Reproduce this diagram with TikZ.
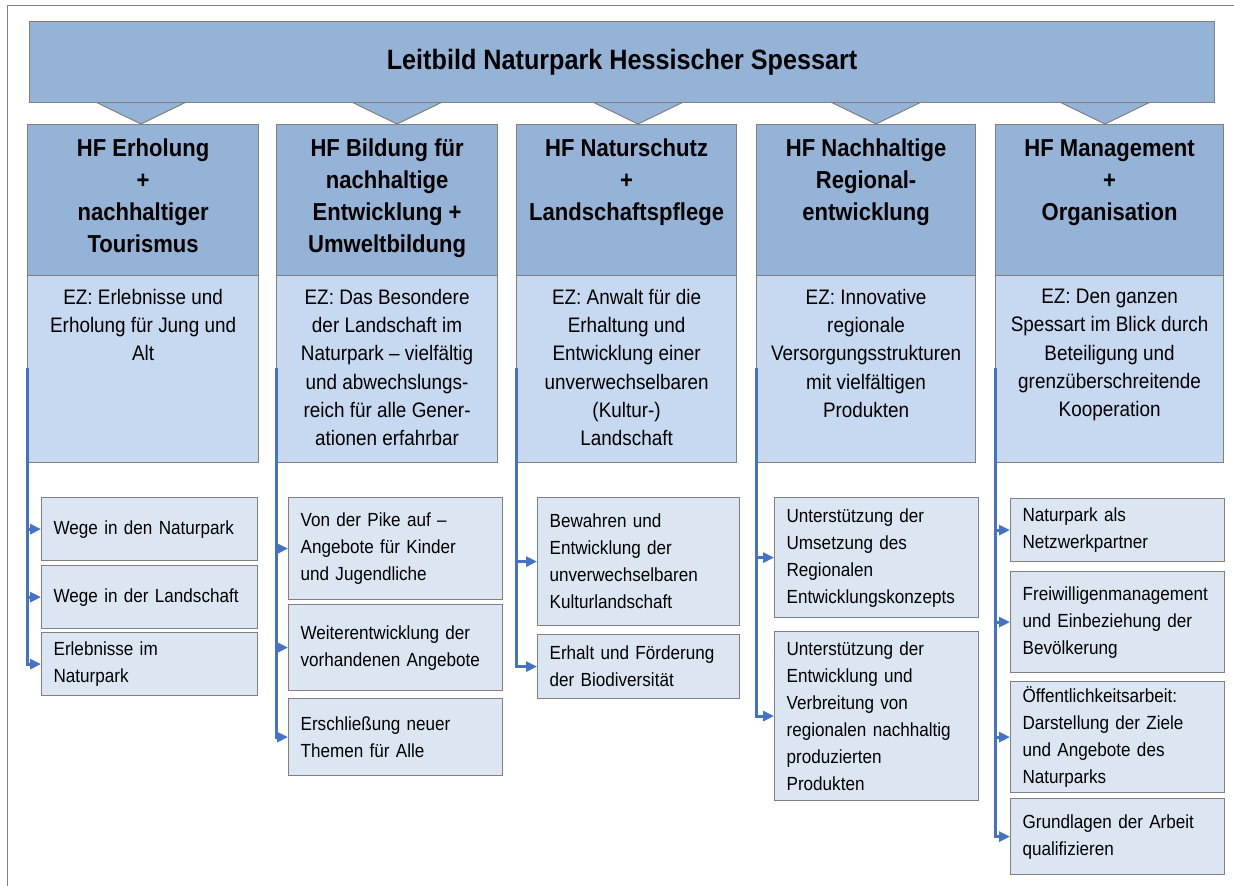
\documentclass[tikz,border=0pt]{standalone}
\usepackage{fontspec}
\setmainfont{Liberation Sans}[FakeStretch=0.9]
\usetikzlibrary{positioning,arrows.meta}
\definecolor{leitblue}{RGB}{149,179,215}
\definecolor{ezblue}{RGB}{198,217,241}
\definecolor{subblue}{RGB}{220,230,242}
\definecolor{boxgray}{RGB}{128,128,128}
\definecolor{connblue}{RGB}{68,114,196}
\hyphenpenalty=10000

\begin{document}
\begin{tikzpicture}[x=1pt,y=-1pt,every path/.style={>={Triangle[length=11pt,width=10pt]}},
		box/.style={draw=boxgray,line width=1.2pt,anchor=north west,inner sep=0pt},
		hfbox/.style={box,fill=leitblue,minimum height=151pt},
		ezbox/.style={box,fill=ezblue,minimum height=187pt},
		hftext/.style={align=center,inner sep=0pt,font=\fontsize{24.5}{32}\selectfont\bfseries},
		eztext/.style={align=center,inner sep=0pt,font=\fontsize{21}{28.2}\selectfont},
		sub/.style={box,fill=subblue,inner xsep=12pt,align=left,font=\fontsize{19}{27}\selectfont},
		conn/.style={->,color=connblue,line width=3pt}]
		\useasboundingbox (0,0) rectangle (1234,886);
		
		% draw outer frame
		\draw[boxgray,line width=1pt] (7,900) -- (7,5) -- (1240,5);
		
		% draw pointers below the banner
		\foreach \x in {141,397,638,876,1105}
		{
			\draw[fill=leitblue,draw=boxgray,line width=1pt] (\x-47.5,101) -- (\x+47.5,101) -- (\x,124) -- cycle;
		}
		
		% draw banner
		\node[box,fill=leitblue,minimum width=1185pt,minimum height=81pt,font=\fontsize{28}{32}\selectfont\bfseries] (leitbild) at (29,21) {Leitbild Naturpark Hessischer Spessart};
		
		% draw HF and EZ boxes
		\foreach \i/\x/\w in {1/27/231,2/276/221,3/516/220,4/756/219,5/995/228}
		{
			\node[hfbox,minimum width=\w] (hf\i) at (\x,124) {};
			\node[ezbox,minimum width=\w] (ez\i) at (\x,275) {};
			\coordinate (c\i) at (\x,368);
		}
		
		% texts of HF boxes
		\node[hftext,below=15pt of hf1.north] (hf1t) {HF Erholung\\+\\nachhaltiger\\Tourismus};
		\node[hftext,below=15pt of hf2.north] (hf2t) {HF Bildung für\\nachhaltige\\Entwicklung +\\Umweltbildung};
		\node[hftext,below=15pt of hf3.north] (hf3t) {HF Naturschutz\\+\\Landschaftspflege};
		\node[hftext,below=15pt of hf4.north] (hf4t) {HF Nachhaltige\\Regional-\\entwicklung};
		\node[hftext,below=15pt of hf5.north] (hf5t) {HF Management\\+\\Organisation};
		
		% texts of EZ boxes
		\node[eztext,below=14pt of ez1.north] (ez1t) {EZ: Erlebnisse und\\Erholung für Jung und\\Alt};
		\node[eztext,below=14pt of ez2.north] (ez2t) {EZ: Das Besondere\\der Landschaft im\\Naturpark – vielfältig\\und abwechslungs-\\reich für alle Gener-\\ationen erfahrbar};
		\node[eztext,below=14pt of ez3.north] (ez3t) {EZ: Anwalt für die\\Erhaltung und\\Entwicklung einer\\unverwechselbaren\\(Kultur-)\\Landschaft};
		\node[eztext,below=14pt of ez4.north] (ez4t) {EZ: Innovative\\regionale\\Versorgungsstrukturen\\mit vielfältigen\\Produkten};
		\node[eztext,below=14pt of ez5.north] (ez5t) {EZ: Den ganzen\\Spessart im Blick durch\\Beteiligung und\\grenzüberschreitende\\Kooperation};
		
		% column 1
		\node[sub,text width=192pt,minimum height=63pt] (s11) at (41,497) {Wege in den Naturpark};
		\node[sub,text width=192pt,minimum height=63pt] (s12) at (41,565) {Wege in der Landschaft};
		\node[sub,text width=192pt,minimum height=63pt] (s13) at (41,632) {Erlebnisse im\\Naturpark};
		
		% column 2
		\node[sub,text width=190pt,minimum height=102pt] (s21) at (288,497) {Von der Pike auf –\\Angebote für Kinder\\und Jugendliche};
		\node[sub,text width=190pt,minimum height=86pt] (s22) at (288,604) {Weiterentwicklung der\\vorhandenen Angebote};
		\node[sub,text width=190pt,minimum height=77pt] (s23) at (288,698) {Erschließung neuer\\Themen für Alle};
		
		% column 3
		\node[sub,text width=178pt,minimum height=128pt] (s31) at (537,497) {Bewahren und\\Entwicklung der\\unverwechselbaren\\Kulturlandschaft};
		\node[sub,text width=178pt,minimum height=64pt] (s32) at (537,634) {Erhalt und Förderung\\der Biodiversität};
		
		% column 4
		\node[sub,text width=180pt,minimum height=120pt] (s41) at (774,497) {Unterstützung der\\Umsetzung des\\Regionalen\\Entwicklungskonzepts};
		\node[sub,text width=180pt,minimum height=169pt] (s42) at (774,631) {Unterstützung der\\Entwicklung und\\Verbreitung von\\regionalen nachhaltig\\produzierten\\Produkten};
		
		% column 5
		\node[sub,text width=190pt,minimum height=63pt] (s51) at (1010,498) {Naturpark als\\Netzwerkpartner};
		\node[sub,text width=190pt,minimum height=101pt] (s52) at (1010,571) {Freiwilligenmanagement\\und Einbeziehung der\\Bevölkerung};
		\node[sub,text width=190pt,minimum height=111pt] (s53) at (1010,681) {Öffentlichkeitsarbeit:\\Darstellung der Ziele\\und Angebote des\\Naturparks};
		\node[sub,text width=190pt,minimum height=76pt] (s54) at (1010,798) {Grundlagen der Arbeit\\qualifizieren};
		
		% draw connectors
		\foreach \s in {s11,s12,s13} \draw[conn] (c1) |- (\s.west);
		\foreach \s in {s21,s22,s23} \draw[conn] (c2) |- (\s.west);
		\foreach \s in {s31,s32} \draw[conn] (c3) |- (\s.west);
		\foreach \s in {s41,s42} \draw[conn] (c4) |- (\s.west);
		\foreach \s in {s51,s52,s53,s54} \draw[conn] (c5) |- (\s.west);
	\end{tikzpicture}
\end{document}
